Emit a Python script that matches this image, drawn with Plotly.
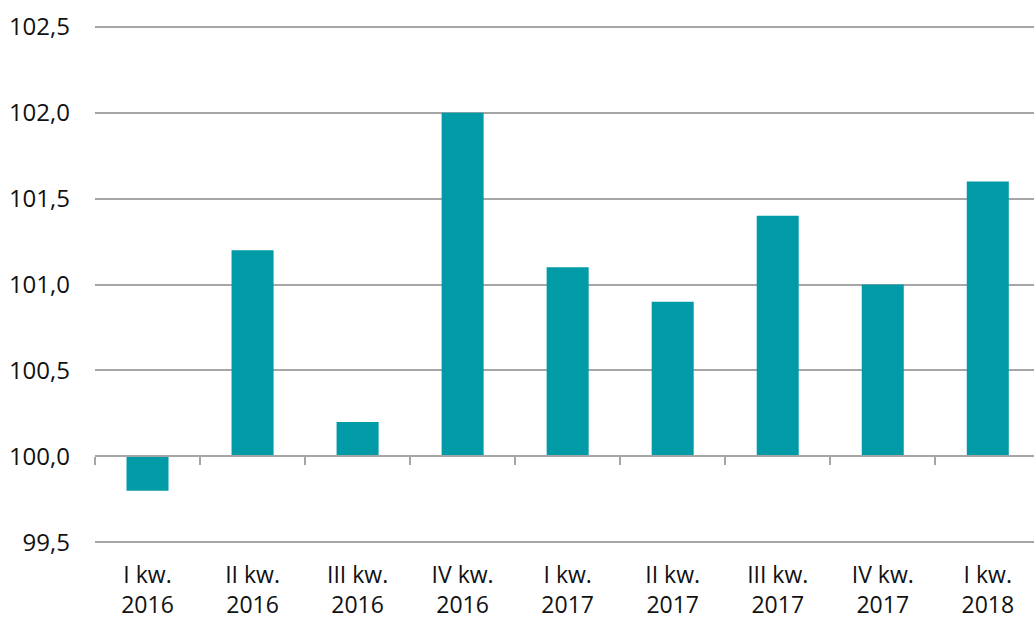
import plotly.graph_objects as go

categories = ["I kw.<br>2016", "II kw.<br>2016", "III kw.<br>2016", "IV kw.<br>2016",
              "I kw.<br>2017", "II kw.<br>2017", "III kw.<br>2017", "IV kw.<br>2017",
              "I kw.<br>2018"]
values = [99.8, 101.2, 100.2, 102.0, 101.1, 100.9, 101.4, 101.0, 101.6]
base_value = 100.0
y_ticks = [99.5, 100.0, 100.5, 101.0, 101.5, 102.0, 102.5]

y_lo, y_hi = 99.49, 102.51

fig = go.Figure()
fig.add_trace(go.Bar(
    x=categories,
    y=[v - base_value for v in values],
    base=base_value,
    marker=dict(color="#009BA6", line=dict(width=0)),
    width=0.4,
    hovertext=[f"{v:.1f}" for v in values],
))

font = dict(family="Open Sans", size=24, color="#111111")
xfont = dict(family="Open Sans", size=23, color="#111111")

fig.update_layout(
    width=1034, height=621,
    margin=dict(l=95, r=0, t=25, b=77),
    paper_bgcolor="white", plot_bgcolor="white",
    separators=",.",
    showlegend=False,
    font=font,
    xaxis=dict(
        type="category",
        range=[-0.5, 8.44],
        showline=False, showgrid=False, ticks="",
        tickfont=xfont,
        ticklabelstandoff=15,
        automargin=False,
    ),
    xaxis2=dict(
        type="category",
        matches="x",
        overlaying="x",
        anchor="free",
        position=(base_value - y_lo) / (y_hi - y_lo),
        showline=True, linecolor="#a6a6a6", linewidth=1.5,
        ticks="outside", tickson="boundaries", ticklen=8,
        tickcolor="#a6a6a6", tickwidth=1.5,
        showticklabels=False, showgrid=False,
        automargin=False,
    ),
    yaxis=dict(
        range=[y_lo, y_hi],
        tickvals=y_ticks,
        tickformat=".1f",
        showgrid=True, gridcolor="#a6a6a6", gridwidth=1.5,
        zeroline=False, showline=False, ticks="",
        tickfont=font,
        ticklabelstandoff=24,
        automargin=False,
    ),
)

fig.add_trace(go.Scatter(x=categories, y=[None]*len(categories), xaxis="x2",
                         mode="markers", showlegend=False, hoverinfo="skip"))

fig.write_html("out.html",
               config={"displayModeBar": False},
               post_script="document.body.style.margin='0';document.body.style.padding='0';")
